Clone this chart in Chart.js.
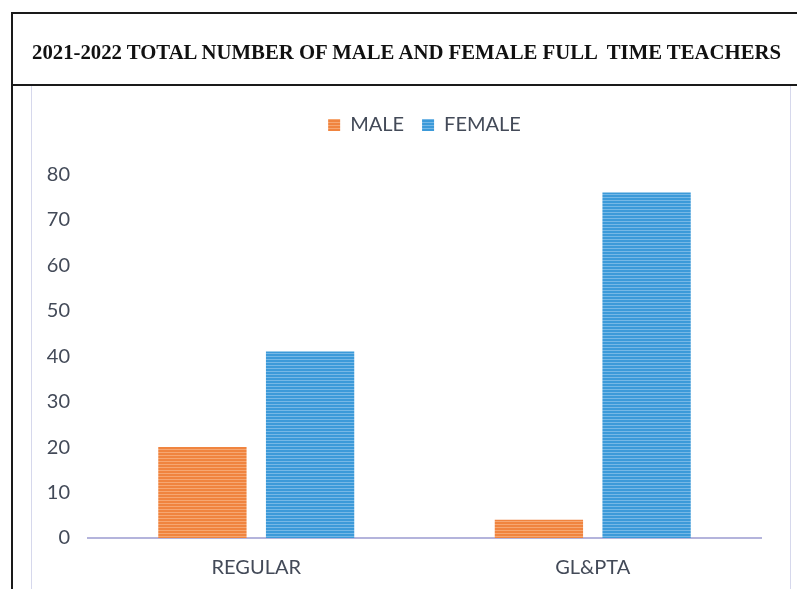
<!DOCTYPE html>
<html>
<head>
<meta charset="utf-8">
<script src="https://cdn.jsdelivr.net/npm/chart.js@4/dist/chart.umd.min.js"></script>
<style>
  html, body { margin: 0; padding: 0; background: #ffffff; }
  #wrap { position: relative; width: 797px; height: 589px; overflow: hidden; }
  canvas { position: absolute; left: 0; top: 0; }
  #title {
    position: absolute; left: 32px; top: 40px; height: 24px; line-height: 24px;
    font-family: "Liberation Serif", "Times New Roman", serif; font-weight: bold;
    font-size: 20.75px; color: #111111; white-space: pre;
  }
</style>
</head>
<body>
<div id="wrap"><canvas id="c" width="797" height="589"></canvas><div id="title"></div></div>
<script>
const titleText = '2021-2022 TOTAL NUMBER OF MALE AND FEMALE FULL  TIME TEACHERS';
const categories = ['REGULAR', 'GL&PTA'];
const seriesNames = ['MALE', 'FEMALE'];
const maleValues = [20, 4];
const femaleValues = [41, 76];
const yTicks = [0, 10, 20, 30, 40, 50, 60, 70, 80];

document.getElementById('title').textContent = titleText;

function stripe(base, light) {
  const c = document.createElement('canvas');
  c.width = 4; c.height = 3;
  const g = c.getContext('2d');
  g.fillStyle = base; g.fillRect(0, 0, 4, 3);
  g.fillStyle = light; g.fillRect(0, 2, 4, 1);
  return g.createPattern(c, 'repeat');
}
const ctx = document.getElementById('c').getContext('2d');
const orange = stripe('#F0843F', '#F6A772');
const blue = stripe('#3C9AD9', '#76B8E6');

const framePlugin = {
  id: 'frame',
  beforeDraw(chart) {
    const g = chart.ctx;
    g.save();
    g.fillStyle = '#ffffff';
    g.fillRect(0, 0, chart.width, chart.height);
    g.strokeStyle = '#d6d8ec';
    g.lineWidth = 1;
    g.beginPath();
    g.moveTo(31.5, 86); g.lineTo(31.5, 589);
    g.moveTo(790.5, 86); g.lineTo(790.5, 589);
    g.stroke();
    g.strokeStyle = '#1a1a1a';
    g.lineWidth = 2;
    g.beginPath();
    g.moveTo(12, 589); g.lineTo(12, 13); g.lineTo(797, 13);
    g.moveTo(12, 85); g.lineTo(797, 85);
    g.stroke();
    g.restore();
  }
};

const labelFont = { family: 'Lato, "Open Sans", sans-serif', size: 20 };

new Chart(ctx, {
  type: 'bar',
  data: {
    labels: categories,
    datasets: [
      { label: seriesNames[0], data: maleValues, backgroundColor: orange, borderWidth: 0 },
      { label: seriesNames[1], data: femaleValues, backgroundColor: blue, borderWidth: 0 }
    ]
  },
  options: {
    responsive: false,
    animation: false,
    devicePixelRatio: 1,
    layout: { padding: { left: 10, right: 36, top: 97, bottom: 0 } },
    datasets: { bar: { categoryPercentage: 0.64, barPercentage: 0.82 } },
    plugins: {
      title: { display: false },
      legend: {
        display: true,
        fullSize: false,
        weight: 1800,
        labels: {
          color: '#434a58',
          font: labelFont,
          boxWidth: 12, boxHeight: 12, padding: 18
        }
      },
      subtitle: {
        display: true,
        text: '',
        weight: 1500,
        fullSize: false,
        padding: { top: 28, bottom: 0 },
        font: { size: 1 }
      },
      tooltip: { enabled: false }
    },
    scales: {
      x: {
        afterFit(scale) { scale.height = scale.height - 9; },
        grid: { display: false, drawTicks: false },
        border: { display: true, color: '#b4b4dc', width: 2 },
        ticks: { color: '#434a58', font: labelFont, padding: 18 }
      },
      y: {
        min: 0, max: 80,
        afterFit(scale) { scale.width = 78; },
        afterBuildTicks(scale) { scale.ticks = yTicks.map(v => ({ value: v })); },
        grid: { display: false, drawTicks: false },
        border: { display: false },
        ticks: { color: '#434a58', font: labelFont, padding: 18 }
      }
    }
  },
  plugins: [framePlugin]
});
</script>
</body>
</html>
